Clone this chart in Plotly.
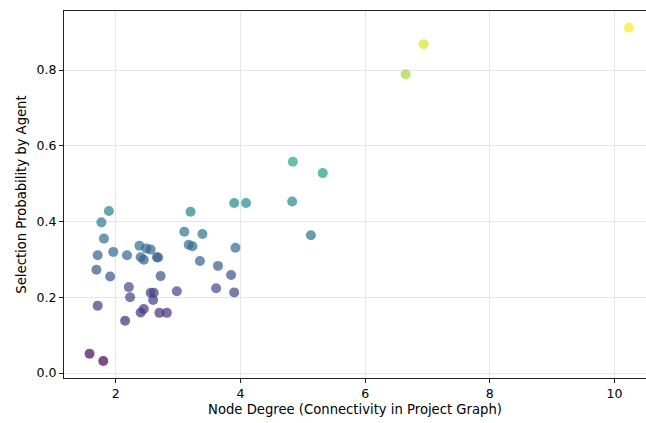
import plotly.graph_objects as go

node_degree = [10.23, 6.94, 6.65, 4.84, 5.32, 3.90, 4.09, 4.83, 5.13, 3.20,
               1.89, 1.77, 1.81, 1.71, 1.96, 1.69, 1.91, 2.18, 2.38, 2.49,
               2.56, 2.40, 2.45, 2.66, 2.68, 2.72, 3.10, 3.39, 3.17, 3.23,
               3.35, 3.64, 3.92, 3.85, 3.61, 3.90, 2.98, 2.21, 2.23, 2.56,
               2.61, 2.60, 1.71, 2.15, 2.40, 2.45, 2.70, 2.82, 1.58, 1.80]
selection_prob = [0.912, 0.868, 0.789, 0.558, 0.528, 0.449, 0.449, 0.453, 0.364, 0.426,
                  0.428, 0.398, 0.355, 0.311, 0.320, 0.273, 0.255, 0.311, 0.336, 0.329,
                  0.326, 0.306, 0.299, 0.306, 0.305, 0.256, 0.373, 0.367, 0.339, 0.335,
                  0.296, 0.283, 0.331, 0.259, 0.224, 0.213, 0.216, 0.227, 0.200, 0.212,
                  0.212, 0.193, 0.178, 0.138, 0.160, 0.169, 0.159, 0.159, 0.051, 0.032]

x_ticks = [2, 4, 6, 8, 10]
y_ticks = [0.0, 0.2, 0.4, 0.6, 0.8]
y_tick_labels = ["0.0", "0.2", "0.4", "0.6", "0.8"]

fig = go.Figure()
fig.add_trace(go.Scatter(
    x=node_degree, y=selection_prob, mode="markers",
    marker=dict(size=10, color=selection_prob, colorscale="Viridis",
                cmin=min(selection_prob), cmax=max(selection_prob),
                opacity=0.7, line=dict(width=0)),
    showlegend=False,
))

tick_font = dict(family="DejaVu Sans", size=12.5, color="black")
title_font = dict(family="DejaVu Sans", size=13.2, color="black")
fig.update_layout(
    width=646, height=423,
    margin=dict(l=64, r=0, t=11, b=45, autoexpand=False),
    paper_bgcolor="white", plot_bgcolor="white",
    font=tick_font,
    xaxis=dict(
        range=[1.17, 10.505], tickvals=x_ticks, ticktext=[str(v) for v in x_ticks],
        showgrid=True, gridcolor="#e6e6e6", gridwidth=0.8, automargin=False,
        showline=True, linecolor="#222222", linewidth=1, mirror=True,
        ticks="outside", ticklen=4, tickcolor="#222222", zeroline=False,
        tickfont=tick_font,
        title=dict(text="Node Degree (Connectivity in Project Graph)", font=title_font, standoff=4),
    ),
    yaxis=dict(
        range=[-0.013, 0.956], tickvals=y_ticks, ticktext=y_tick_labels,
        showgrid=True, gridcolor="#e6e6e6", gridwidth=0.8, automargin=False,
        showline=True, linecolor="#222222", linewidth=1, mirror=False,
        ticks="outside", ticklen=4, tickcolor="#222222", zeroline=False,
        tickfont=tick_font,
        title=dict(text="Selection Probability by Agent", font=title_font, standoff=6),
    ),
)
fig.write_html("out.html", config={"displayModeBar": False},
               post_script="document.body.style.margin='0px';")
